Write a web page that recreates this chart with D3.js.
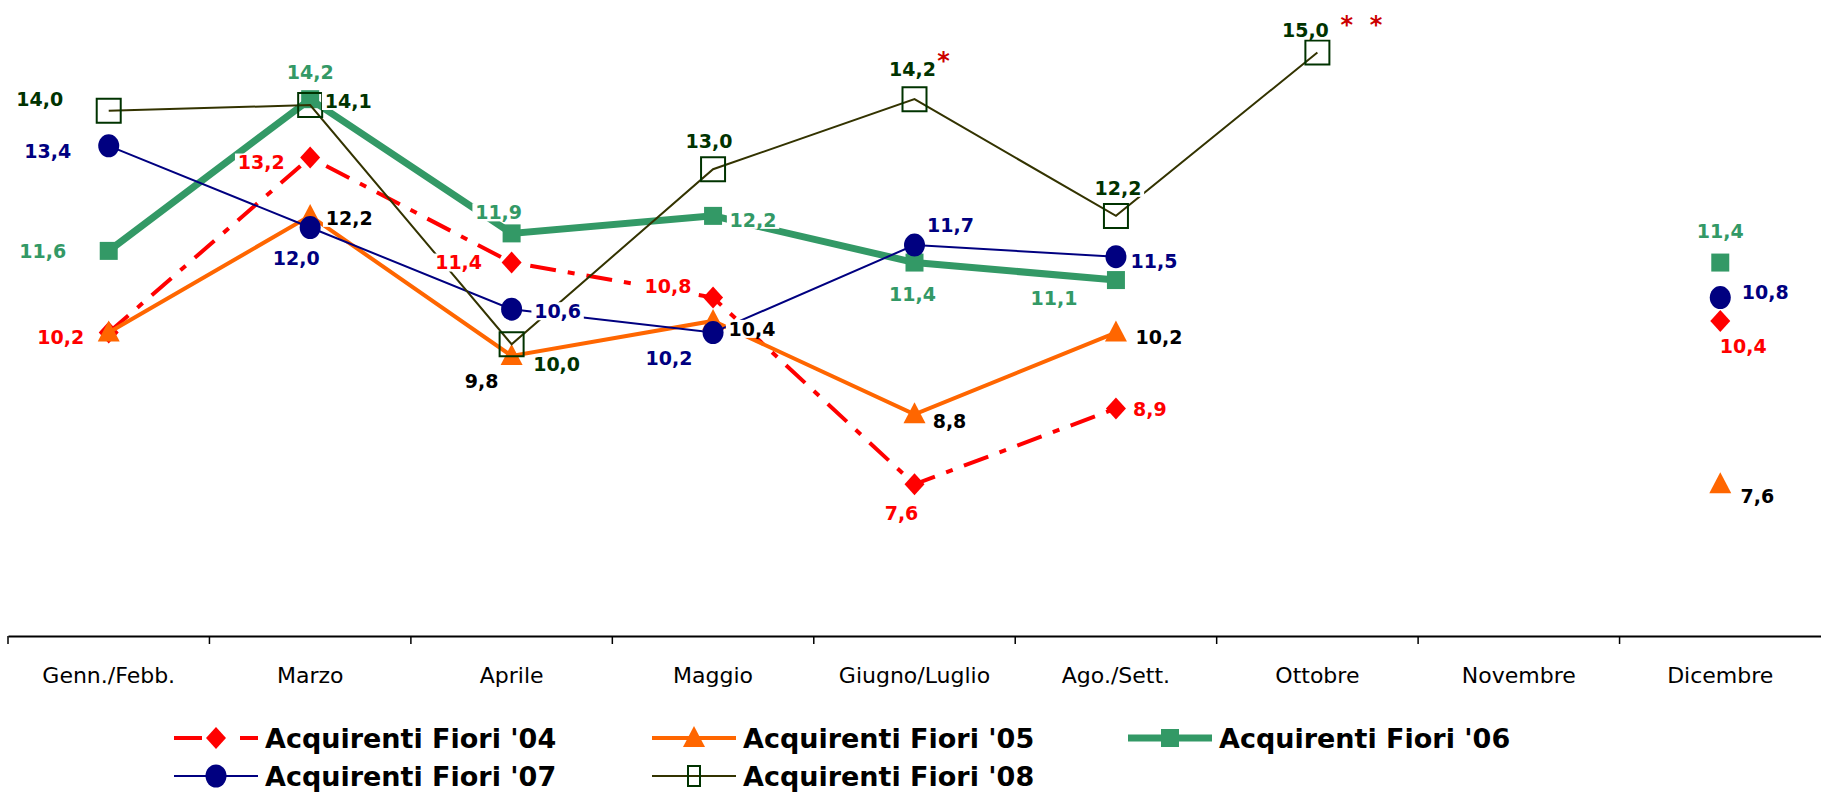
<!DOCTYPE html>
<html>
<head>
<meta charset="utf-8">
<script src="https://cdn.jsdelivr.net/npm/d3@7"></script>
<style>
  body { margin: 0; background: #fff; }
  svg { display: block; font-family: "DejaVu Sans", Verdana, sans-serif; }
</style>
</head>
<body>
<div id="chart"></div>
<script>
// categories and series values
var categories = ["Genn./Febb.", "Marzo", "Aprile", "Maggio", "Giugno/Luglio", "Ago./Sett.", "Ottobre", "Novembre", "Dicembre"];
var fiori04 = [10.2, 13.2, 11.4, 10.8, 7.6, 8.9, null, null, 10.4];
var fiori05 = [10.2, 12.2, 9.8, 10.4, 8.8, 10.2, null, null, 7.6];
var fiori06 = [11.6, 14.2, 11.9, 12.2, 11.4, 11.1, null, null, 11.4];
var fiori07 = [13.4, 12.0, 10.6, 10.2, 11.7, 11.5, null, null, 10.8];
var fiori08 = [14.0, 14.1, 10.0, 13.0, 14.2, 12.2, 15.0, null, null];
var seriesNames = ["Acquirenti Fiori '04", "Acquirenti Fiori '05", "Acquirenti Fiori '06", "Acquirenti Fiori '07", "Acquirenti Fiori '08"];
var notes = [{ i: 4, text: "*" }, { i: 6, text: "* *" }];   // notes on the '08 series

var svgWidth = 1821;
var svgHeight = 796;

var svg = d3.select("#chart")
  .append("svg")
  .attr("width", svgWidth)
  .attr("height", svgHeight);

// scales
var x = d3.scaleBand()
  .domain(categories)
  .range([8, 1821]);

var y = d3.scaleLinear()
  .domain([5, 16])
  .range([636, 636 - 11 * 58.35]);

var cx = function(i) { return x(categories[i]) + x.bandwidth() / 2; };

// marker shapes
var shapes = {
  diamond: "M0,-11L10,0L0,11L-10,0Z",
  triangle: "M0,-12L11,9L-11,9Z",
  square: "M-9,-9H9V9H-9Z",
  open: "M-12,-12H12V12H-12Z",
  circle: "M-10.5,0A10.5,11.5 0 1,0 10.5,0A10.5,11.5 0 1,0 -10.5,0Z"
};

// styles and label offsets per series
var series = [
  { name: seriesNames[0], values: fiori04, line: "#ff0000", width: 4, dash: "26,12,7,12", shape: "diamond", fill: "#ff0000", stroke: "none", label: "#ff0000",
    offs: [[-48, 5], [-49, 5], [-53, 0], [-45, -11], [-13, 29], [34, 1], null, null, [23, 25]] },
  { name: seriesNames[1], values: fiori05, line: "#ff6600", width: 4, dash: null, shape: "triangle", fill: "#ff6600", stroke: "none", label: "#000000",
    offs: [null, [39, 2], [-30, 25], [39, 8], [35, 7], [43, 5], null, null, [37, 12]] },
  { name: seriesNames[2], values: fiori06, line: "#339966", width: 7, dash: null, shape: "square", fill: "#339966", stroke: "none", label: "#339966",
    offs: [[-66, 0], [0, -27], [-13, -21], [40, 4], [-2, 32], [-62, 18], null, null, [0, -31]] },
  { name: seriesNames[3], values: fiori07, line: "#000080", width: 2, dash: null, shape: "circle", fill: "#000080", stroke: "none", label: "#000080",
    offs: [[-61, 5], [-14, 31], [46, 2], [-44, 26], [36, -20], [38, 4], null, null, [45, -5]] },
  { name: seriesNames[4], values: fiori08, line: "#333300", width: 2, dash: null, shape: "open", fill: "none", stroke: "#003300", label: "#003300",
    offs: [[-69, -12], [38, -4], [45, 20], [-4, -28], [-2, -30], [2, -28], [-12, -22], null, null] }
];

// x axis
var bottomAxis = d3.axisBottom(x)
  .tickSize(0)
  .tickSizeOuter(0)
  .tickPadding(31);

var axisG = svg.append("g")
  .attr("transform", "translate(0, 636)")
  .call(bottomAxis);

axisG.select(".domain").attr("stroke", "#000").attr("stroke-width", 1.8);
axisG.selectAll(".tick text")
  .attr("font-size", "22px")
  .attr("font-family", "DejaVu Sans, Verdana, sans-serif")
  .attr("fill", "#000");

axisG.selectAll(".boundary")
  .data(categories)
  .enter()
  .append("line")
  .attr("x1", d => x(d))
  .attr("x2", d => x(d))
  .attr("y1", 0)
  .attr("y2", 8)
  .attr("stroke", "#000")
  .attr("stroke-width", 1.5);

// lines and markers
var line = d3.line()
  .defined(d => d.v != null)
  .x(d => cx(d.i))
  .y(d => y(d.v));

series.forEach(function(s) {
  var pts = s.values.map((v, i) => ({ v: v, i: i }));
  svg.append("path")
    .datum(pts)
    .attr("d", line)
    .attr("fill", "none")
    .attr("stroke", s.line)
    .attr("stroke-width", s.width)
    .attr("stroke-dasharray", s.dash);

  svg.selectAll(null)
    .data(pts.filter(d => d.v != null))
    .enter()
    .append("path")
    .attr("d", shapes[s.shape])
    .attr("transform", d => `translate(${cx(d.i)}, ${y(d.v)})`)
    .attr("fill", s.fill)
    .attr("stroke", s.stroke)
    .attr("stroke-width", 2);
});

// data labels, on top of every line, with a white box
var fmt = v => d3.format(".1f")(v).replace(".", ",");

series.forEach(function(s) {
  var pts = s.values
    .map((v, i) => ({ v: v, i: i, o: s.offs[i] }))
    .filter(d => d.v != null && d.o);

  var g = svg.selectAll(null)
    .data(pts)
    .enter()
    .append("g")
    .attr("transform", d => `translate(${cx(d.i) + d.o[0]}, ${y(d.v) + d.o[1]})`);

  g.append("rect")
    .attr("x", d => -fmt(d.v).length * 6.3 - 1)
    .attr("y", -9)
    .attr("width", d => fmt(d.v).length * 12.6 + 2)
    .attr("height", 18)
    .attr("fill", "#fff");

  g.append("text")
    .attr("text-anchor", "middle")
    .attr("dy", "0.36em")
    .attr("font-size", "19px")
    .attr("font-weight", "bold")
    .attr("fill", s.label)
    .text(d => fmt(d.v));
});

// asterisks on the '08 series
svg.selectAll(".note")
  .data(notes)
  .enter()
  .append("text")
  .attr("class", "note")
  .attr("x", d => cx(d.i) + (d.text === "*" ? 29 : 44))
  .attr("y", d => y(fiori08[d.i]) + (d.text === "*" ? -30 : -20))
  .attr("text-anchor", "middle")
  .attr("font-size", "24px")
  .attr("font-weight", "bold")
  .attr("fill", "#cc0000")
  .style("white-space", "pre")
  .text(d => d.text === "*" ? "*" : "*  *");

// legend
var legendPos = [[174, 738], [652, 738], [1128, 738], [174, 776], [652, 776]];

var legend = svg.selectAll(".legend")
  .data(series)
  .enter()
  .append("g")
  .attr("class", "legend")
  .attr("transform", (d, i) => `translate(${legendPos[i][0]}, ${legendPos[i][1]})`);

legend.append("line")
  .attr("x1", 0)
  .attr("x2", 84)
  .attr("stroke", d => d.line)
  .attr("stroke-width", d => d.width)
  .attr("stroke-dasharray", d => d.dash ? "28,10,0,50" : null);

legend.append("path")
  .attr("d", d => d.shape === "open" ? "M-6,-10H6V10H-6Z" : shapes[d.shape])
  .attr("transform", "translate(42, 0)")
  .attr("fill", d => d.fill)
  .attr("stroke", d => d.stroke)
  .attr("stroke-width", 2);

legend.filter(d => d.dash)
  .append("line")
  .attr("x1", 66)
  .attr("x2", 84)
  .attr("stroke", d => d.line)
  .attr("stroke-width", d => d.width);

legend.append("text")
  .attr("x", 91)
  .attr("dy", "0.36em")
  .attr("font-size", "27px")
  .attr("font-weight", "bold")
  .attr("fill", "#000")
  .text(d => d.name);
</script>
</body>
</html>
